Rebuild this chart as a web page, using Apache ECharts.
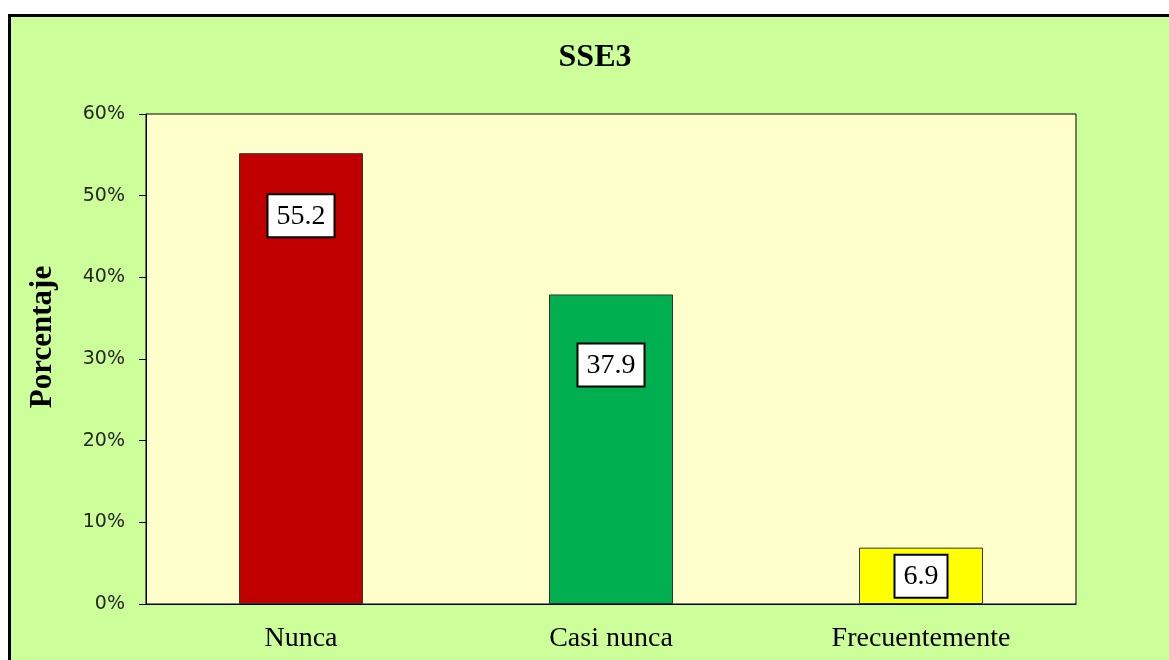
<!DOCTYPE html>
<html>
<head>
<meta charset="utf-8">
<script src="https://cdn.jsdelivr.net/npm/echarts@6/dist/echarts.min.js"></script>
<style>
  html, body { margin: 0; padding: 0; background: #ffffff; }
  #chart { width: 1169px; height: 660px; }
</style>
</head>
<body>
<div id="chart"></div>
<script>
// Response categories and their share of answers (percent)
const categories = ['Nunca', 'Casi nunca', 'Frecuentemente'];
const values = [55.2, 37.9, 6.9];
const barColors = ['#C00000', '#00B050', '#FFFF00'];
const yTicks = [0, 10, 20, 30, 40, 50, 60];
// how far each value box sits below the top of its bar (px)
const labelOffsets = [42, 50, 8];

const chart = echarts.init(document.getElementById('chart'), null, { renderer: 'canvas' });

const serif = '"Liberation Serif", "Times New Roman", serif';

chart.setOption({
  backgroundColor: '#ffffff',
  animation: false,
  graphic: [{
    type: 'rect',
    z: -10,
    silent: true,
    shape: { x: 9.5, y: 15.5, width: 1200, height: 700 },
    style: { fill: '#CCFF99', stroke: '#000000', lineWidth: 3 }
  }],
  title: {
    text: 'SSE3',
    left: 595,
    top: 37,
    textAlign: 'center',
    textStyle: { fontFamily: serif, fontWeight: 'bold', fontSize: 32, color: '#000' }
  },
  grid: {
    left: 146, top: 114, right: 93, bottom: 56,
    show: true,
    backgroundColor: '#FFFFCC',
    borderColor: '#000000',
    borderWidth: 1
  },
  xAxis: {
    type: 'category',
    data: categories,
    axisLine: { show: true, lineStyle: { color: '#000', width: 1 } },
    axisTick: { show: false },
    axisLabel: { fontFamily: serif, fontSize: 28, color: '#000', margin: 21 }
  },
  yAxis: {
    type: 'value',
    min: yTicks[0],
    max: yTicks[yTicks.length - 1],
    interval: 10,
    name: 'Porcentaje',
    nameLocation: 'middle',
    nameRotate: 90,
    nameGap: 88,
    nameTextStyle: {
      fontFamily: serif, fontWeight: 'bold', fontSize: 31, color: '#000',
      padding: [0, 0, 0, 44]
    },
    splitLine: { show: false },
    axisLine: { show: true, lineStyle: { color: '#000', width: 1 } },
    axisTick: { show: true, inside: false, length: 7, lineStyle: { color: '#000' } },
    axisLabel: {
      formatter: '{value}%',
      fontFamily: '"DejaVu Sans", sans-serif',
      fontSize: 19,
      color: '#262626',
      margin: 21,
      padding: [3, 0, 0, 0]
    }
  },
  series: [{
    type: 'bar',
    barWidth: '40%',
    data: values.map((v, i) => ({
      value: v,
      itemStyle: { color: barColors[i], borderColor: '#333333', borderWidth: 1 },
      label: { distance: labelOffsets[i] }
    })),
    label: {
      show: true,
      position: 'insideTop',
      formatter: p => p.value.toFixed(1),
      fontFamily: serif,
      fontSize: 28,
      color: '#000',
      backgroundColor: '#ffffff',
      borderColor: '#000000',
      borderWidth: 2,
      padding: [5, 8, 4, 8],
      lineHeight: 32
    }
  }]
}, true);

// nudge the title slightly left of the frame centre
chart.setOption({ title: { left: 590 } });
</script>
</body>
</html>
